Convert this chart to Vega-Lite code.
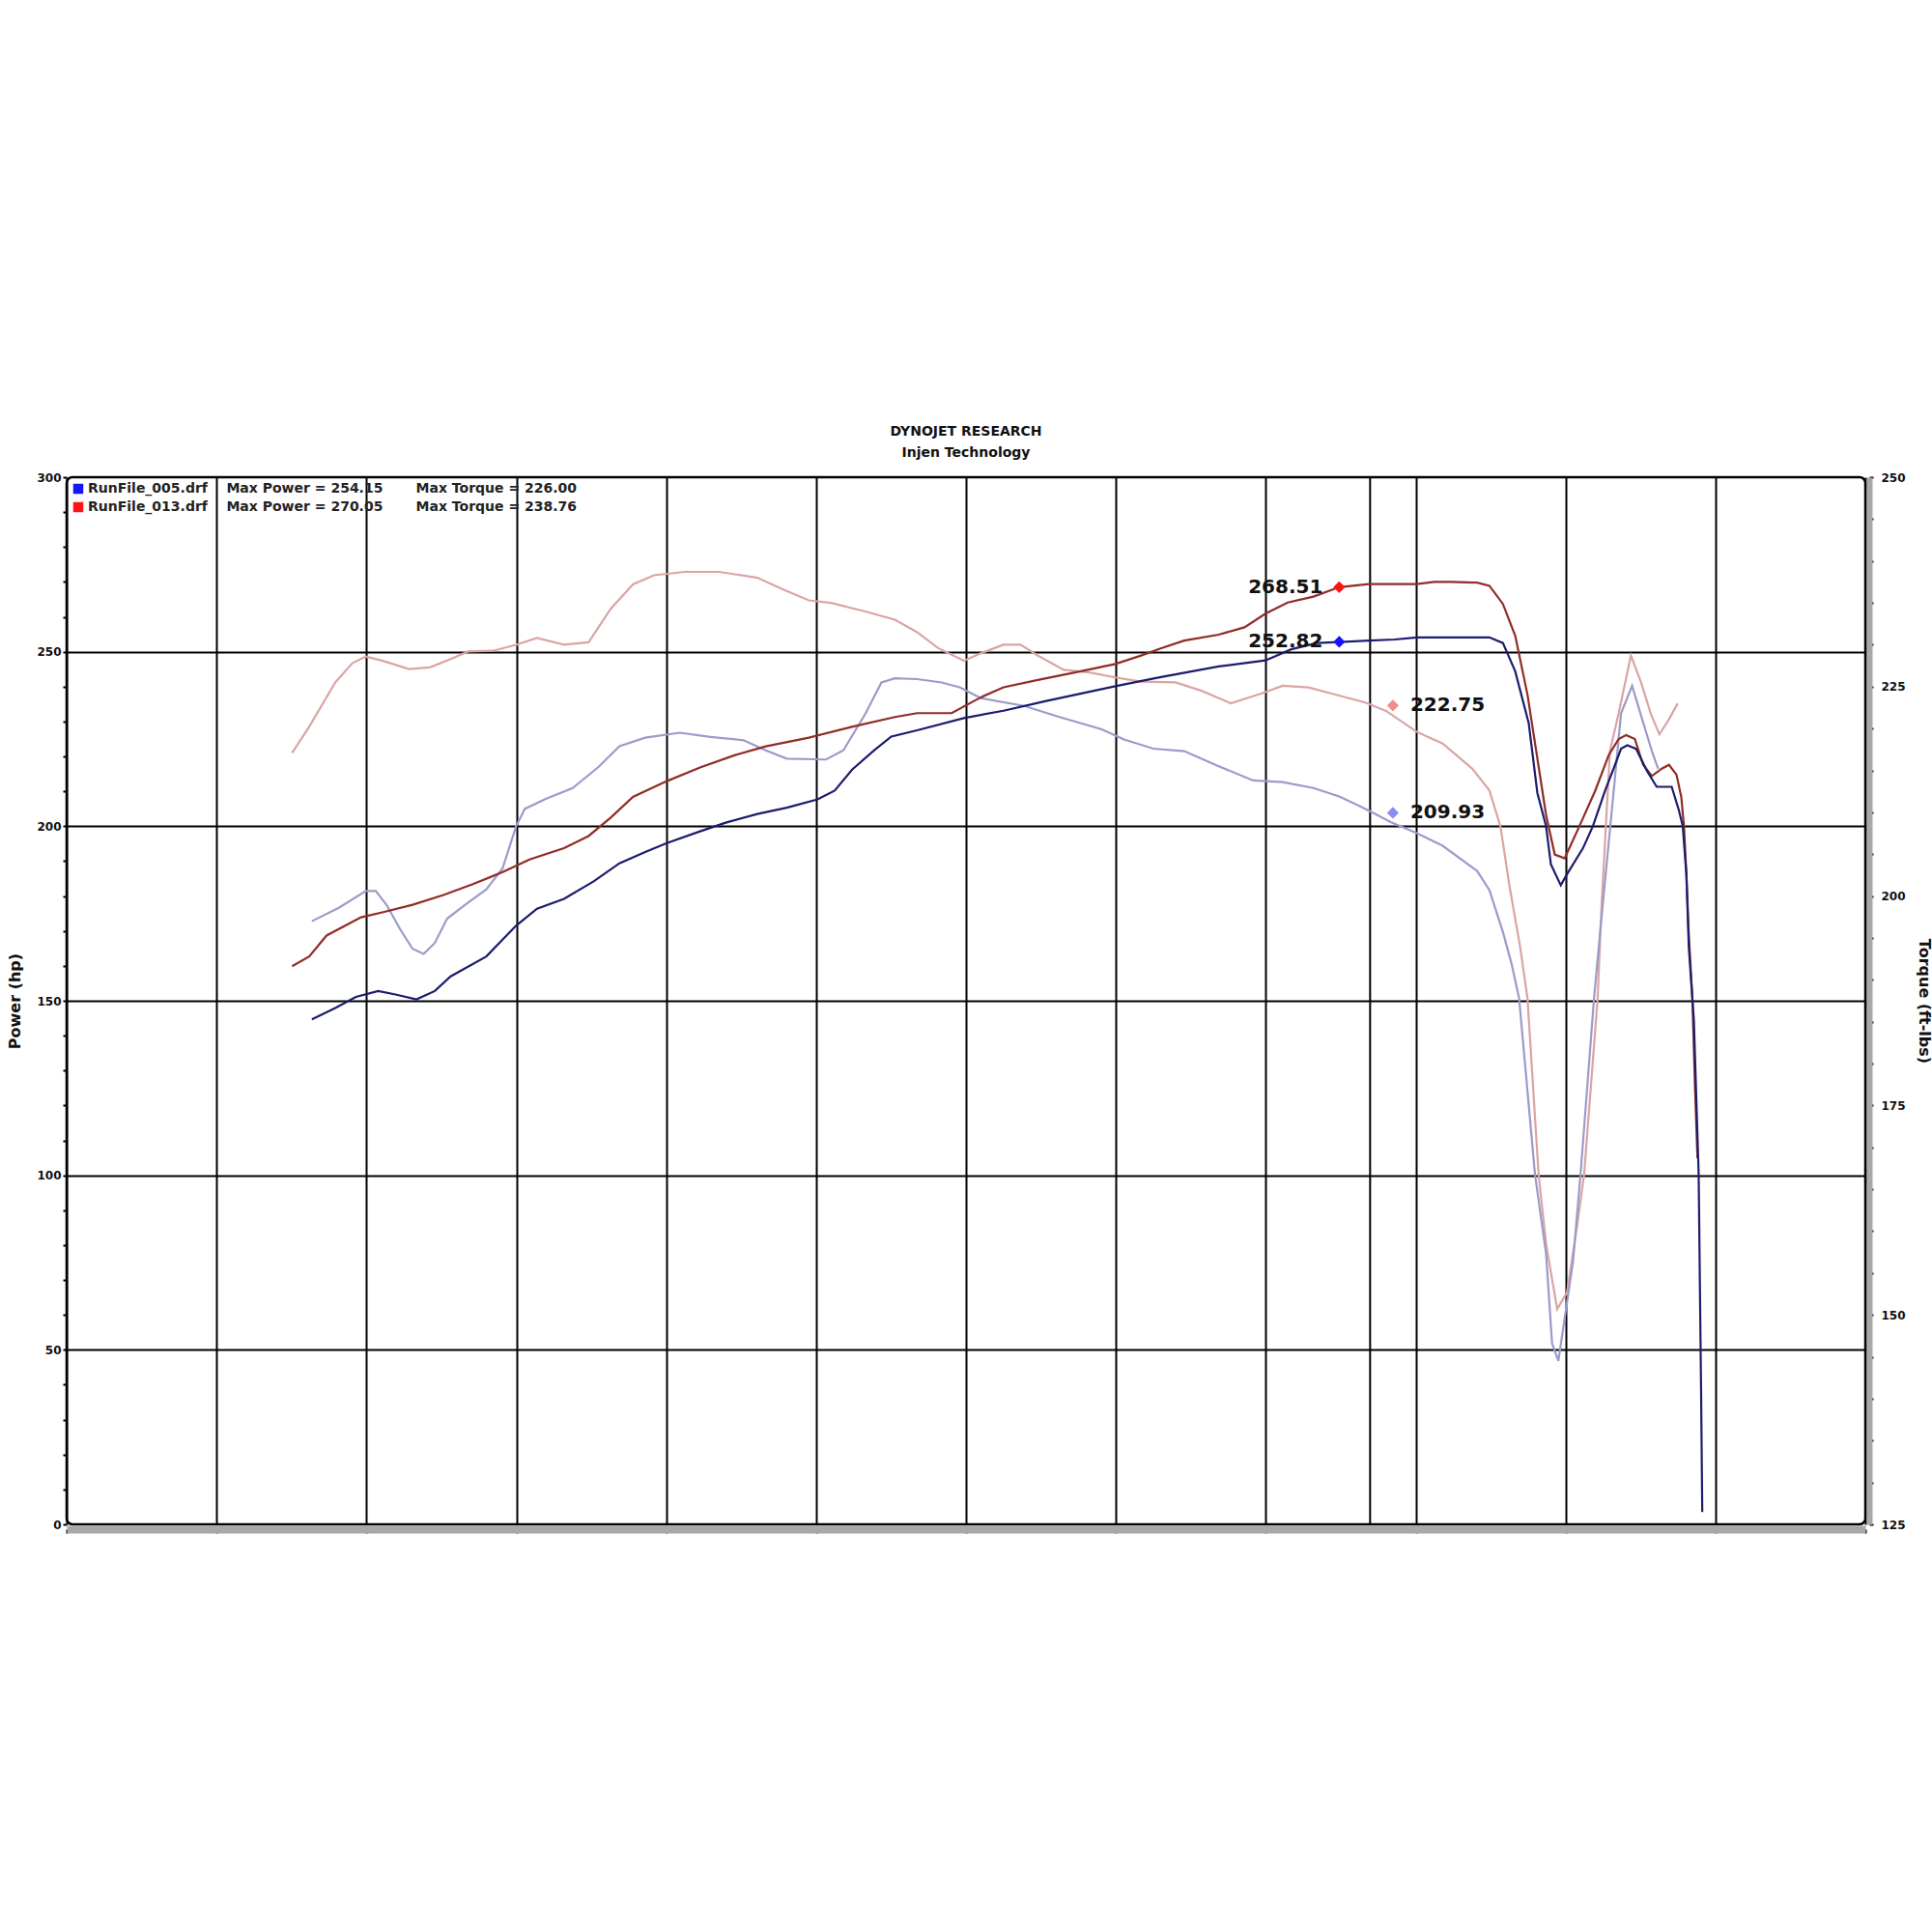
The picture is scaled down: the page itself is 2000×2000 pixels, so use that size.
{
  "$schema": "https://vega.github.io/schema/vega-lite/v6.json",
  "autosize": "none",
  "width": 1862,
  "height": 1084,
  "padding": {"left": 69, "top": 494, "right": 69, "bottom": 422},
  "background": "white",
  "title": {
    "text": "DYNOJET RESEARCH",
    "subtitle": "Injen Technology",
    "anchor": "middle",
    "font": "DejaVu Sans", "fontSize": 14, "fontWeight": "bold", "color": "#111",
    "subtitleFont": "DejaVu Sans", "subtitleFontSize": 14, "subtitleFontWeight": "bold", "subtitleColor": "#111",
    "subtitlePadding": 8,
    "offset": 12
  },
  "datasets": {
    "power": [
      {"run": "RunFile_013.drf", "rpm": 1752, "value": 159.9},
      {"run": "RunFile_013.drf", "rpm": 1809, "value": 162.7},
      {"run": "RunFile_013.drf", "rpm": 1867, "value": 168.7},
      {"run": "RunFile_013.drf", "rpm": 1982, "value": 173.9},
      {"run": "RunFile_013.drf", "rpm": 2056, "value": 175.4},
      {"run": "RunFile_013.drf", "rpm": 2154, "value": 177.5},
      {"run": "RunFile_013.drf", "rpm": 2257, "value": 180.3},
      {"run": "RunFile_013.drf", "rpm": 2355, "value": 183.4},
      {"run": "RunFile_013.drf", "rpm": 2458, "value": 187.0},
      {"run": "RunFile_013.drf", "rpm": 2544, "value": 190.5},
      {"run": "RunFile_013.drf", "rpm": 2659, "value": 193.7},
      {"run": "RunFile_013.drf", "rpm": 2741, "value": 197.2},
      {"run": "RunFile_013.drf", "rpm": 2815, "value": 202.5},
      {"run": "RunFile_013.drf", "rpm": 2889, "value": 208.4},
      {"run": "RunFile_013.drf", "rpm": 3004, "value": 213.0},
      {"run": "RunFile_013.drf", "rpm": 3115, "value": 216.9},
      {"run": "RunFile_013.drf", "rpm": 3230, "value": 220.4},
      {"run": "RunFile_013.drf", "rpm": 3332, "value": 222.9},
      {"run": "RunFile_013.drf", "rpm": 3476, "value": 225.4},
      {"run": "RunFile_013.drf", "rpm": 3620, "value": 228.5},
      {"run": "RunFile_013.drf", "rpm": 3763, "value": 231.3},
      {"run": "RunFile_013.drf", "rpm": 3837, "value": 232.4},
      {"run": "RunFile_013.drf", "rpm": 3952, "value": 232.4},
      {"run": "RunFile_013.drf", "rpm": 4051, "value": 237.0},
      {"run": "RunFile_013.drf", "rpm": 4125, "value": 239.8},
      {"run": "RunFile_013.drf", "rpm": 4240, "value": 241.9},
      {"run": "RunFile_013.drf", "rpm": 4383, "value": 244.4},
      {"run": "RunFile_013.drf", "rpm": 4498, "value": 246.5},
      {"run": "RunFile_013.drf", "rpm": 4584, "value": 248.9},
      {"run": "RunFile_013.drf", "rpm": 4654, "value": 251.1},
      {"run": "RunFile_013.drf", "rpm": 4728, "value": 253.2},
      {"run": "RunFile_013.drf", "rpm": 4843, "value": 254.9},
      {"run": "RunFile_013.drf", "rpm": 4929, "value": 257.0},
      {"run": "RunFile_013.drf", "rpm": 4999, "value": 260.9},
      {"run": "RunFile_013.drf", "rpm": 5073, "value": 264.1},
      {"run": "RunFile_013.drf", "rpm": 5159, "value": 265.8},
      {"run": "RunFile_013.drf", "rpm": 5245, "value": 268.5},
      {"run": "RunFile_013.drf", "rpm": 5344, "value": 269.4},
      {"run": "RunFile_013.drf", "rpm": 5504, "value": 269.4},
      {"run": "RunFile_013.drf", "rpm": 5561, "value": 270.0},
      {"run": "RunFile_013.drf", "rpm": 5619, "value": 270.0},
      {"run": "RunFile_013.drf", "rpm": 5705, "value": 269.8},
      {"run": "RunFile_013.drf", "rpm": 5746, "value": 268.9},
      {"run": "RunFile_013.drf", "rpm": 5791, "value": 263.7},
      {"run": "RunFile_013.drf", "rpm": 5832, "value": 254.6},
      {"run": "RunFile_013.drf", "rpm": 5873, "value": 237.7},
      {"run": "RunFile_013.drf", "rpm": 5906, "value": 219.4},
      {"run": "RunFile_013.drf", "rpm": 5935, "value": 203.2},
      {"run": "RunFile_013.drf", "rpm": 5964, "value": 191.9},
      {"run": "RunFile_013.drf", "rpm": 5997, "value": 190.8},
      {"run": "RunFile_013.drf", "rpm": 6046, "value": 200.0},
      {"run": "RunFile_013.drf", "rpm": 6099, "value": 210.2},
      {"run": "RunFile_013.drf", "rpm": 6144, "value": 220.4},
      {"run": "RunFile_013.drf", "rpm": 6177, "value": 225.0},
      {"run": "RunFile_013.drf", "rpm": 6202, "value": 226.1},
      {"run": "RunFile_013.drf", "rpm": 6231, "value": 225.0},
      {"run": "RunFile_013.drf", "rpm": 6259, "value": 217.6},
      {"run": "RunFile_013.drf", "rpm": 6288, "value": 214.4},
      {"run": "RunFile_013.drf", "rpm": 6321, "value": 216.5},
      {"run": "RunFile_013.drf", "rpm": 6345, "value": 217.6},
      {"run": "RunFile_013.drf", "rpm": 6370, "value": 214.8},
      {"run": "RunFile_013.drf", "rpm": 6386, "value": 208.4},
      {"run": "RunFile_013.drf", "rpm": 6395, "value": 200.0},
      {"run": "RunFile_013.drf", "rpm": 6403, "value": 186.3},
      {"run": "RunFile_013.drf", "rpm": 6411, "value": 169.0},
      {"run": "RunFile_013.drf", "rpm": 6423, "value": 150.7},
      {"run": "RunFile_013.drf", "rpm": 6432, "value": 124.6},
      {"run": "RunFile_013.drf", "rpm": 6440, "value": 104.9},
      {"run": "RunFile_005.drf", "rpm": 1818, "value": 144.7},
      {"run": "RunFile_005.drf", "rpm": 1896, "value": 147.9},
      {"run": "RunFile_005.drf", "rpm": 1965, "value": 151.1},
      {"run": "RunFile_005.drf", "rpm": 2039, "value": 152.8},
      {"run": "RunFile_005.drf", "rpm": 2097, "value": 151.8},
      {"run": "RunFile_005.drf", "rpm": 2167, "value": 150.4},
      {"run": "RunFile_005.drf", "rpm": 2228, "value": 152.8},
      {"run": "RunFile_005.drf", "rpm": 2281, "value": 157.0},
      {"run": "RunFile_005.drf", "rpm": 2400, "value": 162.7},
      {"run": "RunFile_005.drf", "rpm": 2499, "value": 171.5},
      {"run": "RunFile_005.drf", "rpm": 2569, "value": 176.4},
      {"run": "RunFile_005.drf", "rpm": 2659, "value": 179.2},
      {"run": "RunFile_005.drf", "rpm": 2758, "value": 184.2},
      {"run": "RunFile_005.drf", "rpm": 2844, "value": 189.4},
      {"run": "RunFile_005.drf", "rpm": 2930, "value": 192.6},
      {"run": "RunFile_005.drf", "rpm": 3000, "value": 195.1},
      {"run": "RunFile_005.drf", "rpm": 3115, "value": 198.6},
      {"run": "RunFile_005.drf", "rpm": 3201, "value": 201.1},
      {"run": "RunFile_005.drf", "rpm": 3304, "value": 203.5},
      {"run": "RunFile_005.drf", "rpm": 3402, "value": 205.3},
      {"run": "RunFile_005.drf", "rpm": 3505, "value": 207.7},
      {"run": "RunFile_005.drf", "rpm": 3562, "value": 210.2},
      {"run": "RunFile_005.drf", "rpm": 3620, "value": 216.2},
      {"run": "RunFile_005.drf", "rpm": 3694, "value": 221.8},
      {"run": "RunFile_005.drf", "rpm": 3751, "value": 225.7},
      {"run": "RunFile_005.drf", "rpm": 3837, "value": 227.5},
      {"run": "RunFile_005.drf", "rpm": 3993, "value": 231.0},
      {"run": "RunFile_005.drf", "rpm": 4125, "value": 233.1},
      {"run": "RunFile_005.drf", "rpm": 4268, "value": 235.9},
      {"run": "RunFile_005.drf", "rpm": 4498, "value": 240.1},
      {"run": "RunFile_005.drf", "rpm": 4642, "value": 242.6},
      {"run": "RunFile_005.drf", "rpm": 4843, "value": 245.8},
      {"run": "RunFile_005.drf", "rpm": 4999, "value": 247.5},
      {"run": "RunFile_005.drf", "rpm": 5085, "value": 250.7},
      {"run": "RunFile_005.drf", "rpm": 5171, "value": 252.5},
      {"run": "RunFile_005.drf", "rpm": 5245, "value": 252.8},
      {"run": "RunFile_005.drf", "rpm": 5344, "value": 253.2},
      {"run": "RunFile_005.drf", "rpm": 5430, "value": 253.5},
      {"run": "RunFile_005.drf", "rpm": 5504, "value": 254.1},
      {"run": "RunFile_005.drf", "rpm": 5746, "value": 254.1},
      {"run": "RunFile_005.drf", "rpm": 5791, "value": 252.5},
      {"run": "RunFile_005.drf", "rpm": 5832, "value": 244.4},
      {"run": "RunFile_005.drf", "rpm": 5877, "value": 229.6},
      {"run": "RunFile_005.drf", "rpm": 5906, "value": 209.5},
      {"run": "RunFile_005.drf", "rpm": 5935, "value": 200.0},
      {"run": "RunFile_005.drf", "rpm": 5951, "value": 189.1},
      {"run": "RunFile_005.drf", "rpm": 5984, "value": 183.1},
      {"run": "RunFile_005.drf", "rpm": 6005, "value": 186.3},
      {"run": "RunFile_005.drf", "rpm": 6058, "value": 193.7},
      {"run": "RunFile_005.drf", "rpm": 6091, "value": 200.0},
      {"run": "RunFile_005.drf", "rpm": 6132, "value": 210.2},
      {"run": "RunFile_005.drf", "rpm": 6165, "value": 217.6},
      {"run": "RunFile_005.drf", "rpm": 6185, "value": 222.2},
      {"run": "RunFile_005.drf", "rpm": 6206, "value": 223.2},
      {"run": "RunFile_005.drf", "rpm": 6235, "value": 222.2},
      {"run": "RunFile_005.drf", "rpm": 6272, "value": 215.8},
      {"run": "RunFile_005.drf", "rpm": 6304, "value": 211.3},
      {"run": "RunFile_005.drf", "rpm": 6354, "value": 211.3},
      {"run": "RunFile_005.drf", "rpm": 6378, "value": 204.6},
      {"run": "RunFile_005.drf", "rpm": 6391, "value": 200.0},
      {"run": "RunFile_005.drf", "rpm": 6403, "value": 186.3},
      {"run": "RunFile_005.drf", "rpm": 6411, "value": 165.5},
      {"run": "RunFile_005.drf", "rpm": 6428, "value": 144.4},
      {"run": "RunFile_005.drf", "rpm": 6444, "value": 100.4},
      {"run": "RunFile_005.drf", "rpm": 6448, "value": 69.4},
      {"run": "RunFile_005.drf", "rpm": 6452, "value": 39.1},
      {"run": "RunFile_005.drf", "rpm": 6456, "value": 3.5}
    ],
    "torque": [
      {"run": "RunFile_013.drf", "rpm": 1752, "value": 217.1},
      {"run": "RunFile_013.drf", "rpm": 1809, "value": 220.2},
      {"run": "RunFile_013.drf", "rpm": 1896, "value": 225.5},
      {"run": "RunFile_013.drf", "rpm": 1953, "value": 227.8},
      {"run": "RunFile_013.drf", "rpm": 1998, "value": 228.6},
      {"run": "RunFile_013.drf", "rpm": 2052, "value": 228.1},
      {"run": "RunFile_013.drf", "rpm": 2142, "value": 227.1},
      {"run": "RunFile_013.drf", "rpm": 2212, "value": 227.3},
      {"run": "RunFile_013.drf", "rpm": 2281, "value": 228.3},
      {"run": "RunFile_013.drf", "rpm": 2339, "value": 229.2},
      {"run": "RunFile_013.drf", "rpm": 2425, "value": 229.3},
      {"run": "RunFile_013.drf", "rpm": 2499, "value": 230.0},
      {"run": "RunFile_013.drf", "rpm": 2569, "value": 230.8},
      {"run": "RunFile_013.drf", "rpm": 2659, "value": 230.0},
      {"run": "RunFile_013.drf", "rpm": 2741, "value": 230.3},
      {"run": "RunFile_013.drf", "rpm": 2815, "value": 234.3},
      {"run": "RunFile_013.drf", "rpm": 2889, "value": 237.2},
      {"run": "RunFile_013.drf", "rpm": 2959, "value": 238.3},
      {"run": "RunFile_013.drf", "rpm": 3061, "value": 238.7},
      {"run": "RunFile_013.drf", "rpm": 3176, "value": 238.7},
      {"run": "RunFile_013.drf", "rpm": 3304, "value": 238.0},
      {"run": "RunFile_013.drf", "rpm": 3390, "value": 236.6},
      {"run": "RunFile_013.drf", "rpm": 3476, "value": 235.3},
      {"run": "RunFile_013.drf", "rpm": 3550, "value": 235.0},
      {"run": "RunFile_013.drf", "rpm": 3661, "value": 234.0},
      {"run": "RunFile_013.drf", "rpm": 3763, "value": 233.0},
      {"run": "RunFile_013.drf", "rpm": 3837, "value": 231.5},
      {"run": "RunFile_013.drf", "rpm": 3907, "value": 229.6},
      {"run": "RunFile_013.drf", "rpm": 3993, "value": 228.1},
      {"run": "RunFile_013.drf", "rpm": 4051, "value": 229.0},
      {"run": "RunFile_013.drf", "rpm": 4125, "value": 230.0},
      {"run": "RunFile_013.drf", "rpm": 4182, "value": 230.0},
      {"run": "RunFile_013.drf", "rpm": 4240, "value": 228.7},
      {"run": "RunFile_013.drf", "rpm": 4326, "value": 227.0},
      {"run": "RunFile_013.drf", "rpm": 4412, "value": 226.7},
      {"run": "RunFile_013.drf", "rpm": 4498, "value": 226.1},
      {"run": "RunFile_013.drf", "rpm": 4584, "value": 225.6},
      {"run": "RunFile_013.drf", "rpm": 4699, "value": 225.5},
      {"run": "RunFile_013.drf", "rpm": 4786, "value": 224.5},
      {"run": "RunFile_013.drf", "rpm": 4884, "value": 223.0},
      {"run": "RunFile_013.drf", "rpm": 4987, "value": 224.2},
      {"run": "RunFile_013.drf", "rpm": 5056, "value": 225.1},
      {"run": "RunFile_013.drf", "rpm": 5143, "value": 224.9},
      {"run": "RunFile_013.drf", "rpm": 5217, "value": 224.2},
      {"run": "RunFile_013.drf", "rpm": 5332, "value": 223.1},
      {"run": "RunFile_013.drf", "rpm": 5401, "value": 222.1},
      {"run": "RunFile_013.drf", "rpm": 5504, "value": 219.6},
      {"run": "RunFile_013.drf", "rpm": 5590, "value": 218.2},
      {"run": "RunFile_013.drf", "rpm": 5689, "value": 215.2},
      {"run": "RunFile_013.drf", "rpm": 5746, "value": 212.6},
      {"run": "RunFile_013.drf", "rpm": 5783, "value": 208.3},
      {"run": "RunFile_013.drf", "rpm": 5812, "value": 201.4},
      {"run": "RunFile_013.drf", "rpm": 5849, "value": 193.8},
      {"run": "RunFile_013.drf", "rpm": 5873, "value": 187.8},
      {"run": "RunFile_013.drf", "rpm": 5910, "value": 166.8},
      {"run": "RunFile_013.drf", "rpm": 5935, "value": 158.5},
      {"run": "RunFile_013.drf", "rpm": 5972, "value": 150.7},
      {"run": "RunFile_013.drf", "rpm": 6005, "value": 152.7},
      {"run": "RunFile_013.drf", "rpm": 6038, "value": 160.5},
      {"run": "RunFile_013.drf", "rpm": 6062, "value": 166.8},
      {"run": "RunFile_013.drf", "rpm": 6107, "value": 187.8},
      {"run": "RunFile_013.drf", "rpm": 6120, "value": 198.8},
      {"run": "RunFile_013.drf", "rpm": 6148, "value": 217.3},
      {"run": "RunFile_013.drf", "rpm": 6177, "value": 221.8},
      {"run": "RunFile_013.drf", "rpm": 6218, "value": 228.7},
      {"run": "RunFile_013.drf", "rpm": 6251, "value": 225.6},
      {"run": "RunFile_013.drf", "rpm": 6284, "value": 221.8},
      {"run": "RunFile_013.drf", "rpm": 6313, "value": 219.3},
      {"run": "RunFile_013.drf", "rpm": 6345, "value": 221.1},
      {"run": "RunFile_013.drf", "rpm": 6374, "value": 223.0},
      {"run": "RunFile_005.drf", "rpm": 1818, "value": 197.0},
      {"run": "RunFile_005.drf", "rpm": 1908, "value": 198.6},
      {"run": "RunFile_005.drf", "rpm": 1998, "value": 200.6},
      {"run": "RunFile_005.drf", "rpm": 2031, "value": 200.6},
      {"run": "RunFile_005.drf", "rpm": 2068, "value": 198.9},
      {"run": "RunFile_005.drf", "rpm": 2113, "value": 196.0},
      {"run": "RunFile_005.drf", "rpm": 2154, "value": 193.7},
      {"run": "RunFile_005.drf", "rpm": 2191, "value": 193.1},
      {"run": "RunFile_005.drf", "rpm": 2228, "value": 194.4},
      {"run": "RunFile_005.drf", "rpm": 2269, "value": 197.3},
      {"run": "RunFile_005.drf", "rpm": 2327, "value": 198.9},
      {"run": "RunFile_005.drf", "rpm": 2400, "value": 200.8},
      {"run": "RunFile_005.drf", "rpm": 2454, "value": 203.3},
      {"run": "RunFile_005.drf", "rpm": 2499, "value": 208.3},
      {"run": "RunFile_005.drf", "rpm": 2528, "value": 210.4},
      {"run": "RunFile_005.drf", "rpm": 2598, "value": 211.6},
      {"run": "RunFile_005.drf", "rpm": 2688, "value": 212.9},
      {"run": "RunFile_005.drf", "rpm": 2774, "value": 215.4},
      {"run": "RunFile_005.drf", "rpm": 2844, "value": 217.9},
      {"run": "RunFile_005.drf", "rpm": 2930, "value": 218.9},
      {"run": "RunFile_005.drf", "rpm": 3045, "value": 219.5},
      {"run": "RunFile_005.drf", "rpm": 3148, "value": 219.0},
      {"run": "RunFile_005.drf", "rpm": 3258, "value": 218.6},
      {"run": "RunFile_005.drf", "rpm": 3332, "value": 217.4},
      {"run": "RunFile_005.drf", "rpm": 3402, "value": 216.4},
      {"run": "RunFile_005.drf", "rpm": 3533, "value": 216.3},
      {"run": "RunFile_005.drf", "rpm": 3591, "value": 217.4},
      {"run": "RunFile_005.drf", "rpm": 3665, "value": 221.8},
      {"run": "RunFile_005.drf", "rpm": 3718, "value": 225.5},
      {"run": "RunFile_005.drf", "rpm": 3763, "value": 226.0},
      {"run": "RunFile_005.drf", "rpm": 3837, "value": 225.9},
      {"run": "RunFile_005.drf", "rpm": 3919, "value": 225.5},
      {"run": "RunFile_005.drf", "rpm": 3981, "value": 224.9},
      {"run": "RunFile_005.drf", "rpm": 4051, "value": 223.6},
      {"run": "RunFile_005.drf", "rpm": 4194, "value": 222.7},
      {"run": "RunFile_005.drf", "rpm": 4309, "value": 221.4},
      {"run": "RunFile_005.drf", "rpm": 4453, "value": 219.9},
      {"run": "RunFile_005.drf", "rpm": 4527, "value": 218.7},
      {"run": "RunFile_005.drf", "rpm": 4625, "value": 217.6},
      {"run": "RunFile_005.drf", "rpm": 4728, "value": 217.3},
      {"run": "RunFile_005.drf", "rpm": 4843, "value": 215.5},
      {"run": "RunFile_005.drf", "rpm": 4958, "value": 213.8},
      {"run": "RunFile_005.drf", "rpm": 5056, "value": 213.6},
      {"run": "RunFile_005.drf", "rpm": 5159, "value": 212.9},
      {"run": "RunFile_005.drf", "rpm": 5245, "value": 211.9},
      {"run": "RunFile_005.drf", "rpm": 5315, "value": 210.7},
      {"run": "RunFile_005.drf", "rpm": 5360, "value": 209.9},
      {"run": "RunFile_005.drf", "rpm": 5418, "value": 208.8},
      {"run": "RunFile_005.drf", "rpm": 5504, "value": 207.5},
      {"run": "RunFile_005.drf", "rpm": 5590, "value": 206.0},
      {"run": "RunFile_005.drf", "rpm": 5705, "value": 203.0},
      {"run": "RunFile_005.drf", "rpm": 5746, "value": 200.7},
      {"run": "RunFile_005.drf", "rpm": 5791, "value": 195.7},
      {"run": "RunFile_005.drf", "rpm": 5820, "value": 191.9},
      {"run": "RunFile_005.drf", "rpm": 5845, "value": 187.8},
      {"run": "RunFile_005.drf", "rpm": 5898, "value": 166.8},
      {"run": "RunFile_005.drf", "rpm": 5935, "value": 157.3},
      {"run": "RunFile_005.drf", "rpm": 5955, "value": 146.6},
      {"run": "RunFile_005.drf", "rpm": 5976, "value": 144.5},
      {"run": "RunFile_005.drf", "rpm": 6025, "value": 156.4},
      {"run": "RunFile_005.drf", "rpm": 6050, "value": 166.8},
      {"run": "RunFile_005.drf", "rpm": 6095, "value": 187.8},
      {"run": "RunFile_005.drf", "rpm": 6120, "value": 197.5},
      {"run": "RunFile_005.drf", "rpm": 6165, "value": 214.2},
      {"run": "RunFile_005.drf", "rpm": 6185, "value": 221.8},
      {"run": "RunFile_005.drf", "rpm": 6222, "value": 225.1},
      {"run": "RunFile_005.drf", "rpm": 6259, "value": 220.7},
      {"run": "RunFile_005.drf", "rpm": 6288, "value": 217.3},
      {"run": "RunFile_005.drf", "rpm": 6309, "value": 215.2}
    ],
    "markers": [
      {"run": "RunFile_013.drf", "measure": "power", "rpm": 5245, "value": 268.51},
      {"run": "RunFile_005.drf", "measure": "power", "rpm": 5245, "value": 252.82},
      {"run": "RunFile_013.drf", "measure": "torque", "rpm": 5424, "value": 222.75},
      {"run": "RunFile_005.drf", "measure": "torque", "rpm": 5424, "value": 209.93}
    ],
    "cursor": [{"rpm": 5348}],
    "notes": [{"note": "CF: SAE\u00a0 Smoothing: 5"}]
  },
  "encoding": {
    "x": {
      "field": "rpm",
      "type": "quantitative",
      "scale": {"domain": [1000, 7000], "nice": false, "zero": false},
      "axis": {
        "values": [1000, 1500, 2000, 2500, 3000, 3500, 4000, 4500, 5000, 5500, 6000, 6500, 7000],
        "labels": false,
        "title": null,
        "grid": true,
        "gridColor": "#000",
        "gridWidth": 2,
        "domain": true,
        "domainColor": "#a8a8a8",
        "domainWidth": 8,
        "offset": 5,
        "tickSize": 4
      }
    }
  },
  "layer": [
    {
      "data": {"name": "cursor"},
      "mark": {"type": "rule", "color": "#000", "strokeWidth": 2},
      "encoding": {}
    },
    {
      "encoding": {
        "y": {
          "field": "value",
          "type": "quantitative",
          "scale": {"domain": [125, 250], "nice": false, "zero": false},
          "axis": {
            "orient": "right",
            "title": "Torque (ft-lbs)",
            "values": [125, 130, 135, 140, 145, 150, 155, 160, 165, 170, 175, 180, 185, 190, 195, 200, 205, 210, 215, 220, 225, 230, 235, 240, 245, 250],
            "labelExpr": "datum.value % 25 == 0 ? datum.label : ''",
            "labelOverlap": false,
            "grid": false,
            "domain": true,
            "domainColor": "#a8a8a8",
            "domainWidth": 6,
            "offset": 4,
            "tickSize": 4,
            "labelPadding": 8,
            "titleX": 56,
            "titleY": 542,
            "titleAngle": 90,
            "titleBaseline": "middle"
          }
        }
      },
      "layer": [
        {
          "data": {"name": "torque"},
          "mark": {"type": "line", "strokeWidth": 2.2},
          "encoding": {
            "stroke": {
              "field": "run",
              "type": "nominal",
              "scale": {"domain": ["RunFile_005.drf", "RunFile_013.drf"], "range": ["#9b9bca", "#dba4a4"]},
              "legend": null
            }
          }
        },
        {
          "data": {"name": "markers"},
          "transform": [{"filter": "datum.measure == 'torque'"}],
          "mark": {"type": "point", "shape": "diamond", "filled": true, "size": 150, "opacity": 1},
          "encoding": {
            "color": {
              "field": "run",
              "type": "nominal",
              "scale": {"domain": ["RunFile_005.drf", "RunFile_013.drf"], "range": ["#8c8cf2", "#f28c8c"]},
              "legend": null
            }
          }
        },
        {
          "data": {"name": "markers"},
          "transform": [{"filter": "datum.measure == 'torque'"}],
          "mark": {"type": "text", "align": "left", "baseline": "middle", "dx": 18, "font": "DejaVu Sans", "fontSize": 20, "fontWeight": "bold", "color": "#111"},
          "encoding": {
            "text": {"field": "value", "type": "quantitative", "format": ".2f"}
          }
        }
      ]
    },
    {
      "encoding": {
        "y": {
          "field": "value",
          "type": "quantitative",
          "scale": {"domain": [0, 300], "nice": false, "zero": false},
          "axis": {
            "orient": "left",
            "title": "Power (hp)",
            "values": [0, 10, 20, 30, 40, 50, 60, 70, 80, 90, 100, 110, 120, 130, 140, 150, 160, 170, 180, 190, 200, 210, 220, 230, 240, 250, 260, 270, 280, 290, 300],
            "labelExpr": "datum.value % 50 == 0 ? datum.label : ''",
            "labelOverlap": false,
            "domain": false,
            "tickSize": 4,
            "labelPadding": 2,
            "grid": true,
            "gridColor": "#000",
            "gridWidth": 2,
            "gridOpacity": {"condition": {"test": "datum.value % 50 == 0 && datum.value > 0 && datum.value < 300", "value": 1}, "value": 0},
            "titleX": -54,
            "titleY": 542,
            "titleAngle": -90,
            "titleBaseline": "middle"
          }
        }
      },
      "layer": [
        {
          "data": {"name": "power"},
          "mark": {"type": "line", "strokeWidth": 2.2},
          "encoding": {
            "stroke": {
              "field": "run",
              "type": "nominal",
              "scale": {"domain": ["RunFile_005.drf", "RunFile_013.drf"], "range": ["#1c1c6e", "#8f2d26"]},
              "legend": null
            }
          }
        },
        {
          "data": {"name": "markers"},
          "transform": [{"filter": "datum.measure == 'power'"}],
          "mark": {"type": "point", "shape": "diamond", "filled": true, "size": 150, "opacity": 1},
          "encoding": {
            "fill": {
              "field": "run",
              "type": "nominal",
              "scale": {"domain": ["RunFile_005.drf", "RunFile_013.drf"], "range": ["#1414ff", "#ff1414"]},
              "legend": {
                "orient": "top-left",
                "title": null,
                "symbolType": "square",
                "symbolSize": 110,
                "symbolStrokeWidth": 0,
                "symbolOpacity": 1,
                "offset": 1,
                "padding": 4,
                "labelFont": "DejaVu Sans",
                "labelFontSize": 14,
                "labelFontWeight": "bold",
                "labelColor": "#222",
                "labelLimit": 1200,
                "labelOffset": 3,
                "rowPadding": 5,
                "labelExpr": "datum.label == 'RunFile_005.drf' ? 'RunFile_005.drf\u00a0\u00a0\u00a0\u00a0Max Power = 254.15\u00a0\u00a0\u00a0\u00a0\u00a0\u00a0\u00a0Max Torque = 226.00' : 'RunFile_013.drf\u00a0\u00a0\u00a0\u00a0Max Power = 270.05\u00a0\u00a0\u00a0\u00a0\u00a0\u00a0\u00a0Max Torque = 238.76'"
              }
            }
          }
        },
        {
          "data": {"name": "markers"},
          "transform": [{"filter": "datum.measure == 'power'"}],
          "mark": {"type": "text", "align": "right", "baseline": "middle", "dx": -17, "font": "DejaVu Sans", "fontSize": 20, "fontWeight": "bold", "color": "#111"},
          "encoding": {
            "text": {"field": "value", "type": "quantitative", "format": ".2f"}
          }
        },
        {
          "data": {"name": "notes"},
          "mark": {"type": "text", "align": "right", "baseline": "middle", "dx": 43, "dy": -52, "font": "DejaVu Sans", "fontSize": 14, "fontWeight": "bold", "color": "#111"},
          "encoding": {
            "x": {"datum": 7000},
            "y": {"datum": 300},
            "text": {"field": "note"}
          }
        }
      ]
    }
  ],
  "resolve": {"scale": {"y": "independent", "stroke": "independent", "color": "independent"}},
  "config": {
    "view": {"stroke": "#000", "strokeWidth": 2.5, "cornerRadius": 6},
    "font": "DejaVu Sans",
    "axis": {
      "labelFont": "DejaVu Sans",
      "labelFontWeight": "bold",
      "labelFontSize": 12,
      "labelColor": "#111",
      "titleFont": "DejaVu Sans",
      "titleFontWeight": "bold",
      "titleFontSize": 16,
      "titleColor": "#111",
      "tickColor": "#000",
      "tickWidth": 2
    }
  }
}
